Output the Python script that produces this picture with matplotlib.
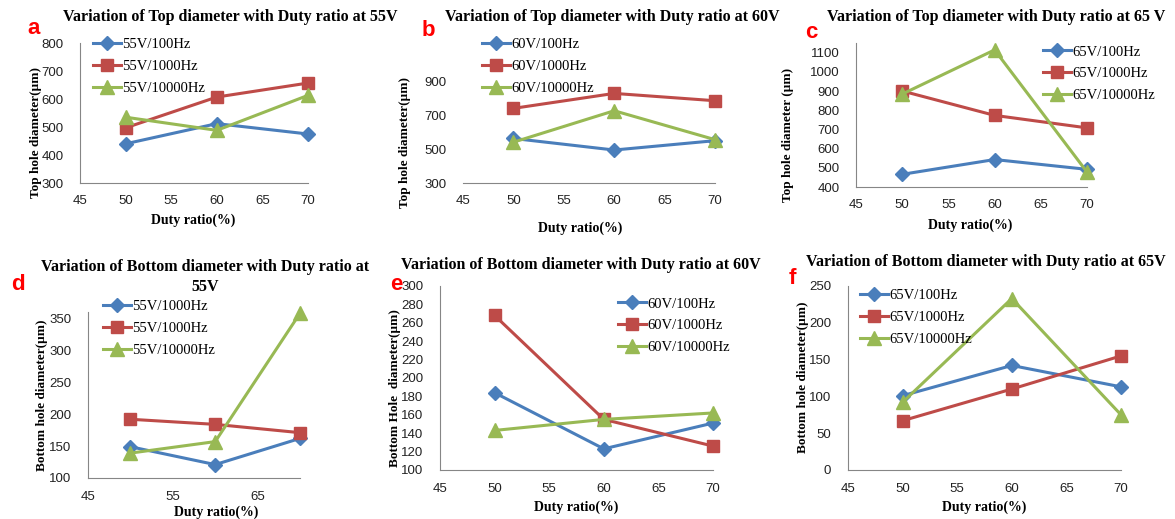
import matplotlib
matplotlib.use('Agg')
import matplotlib.pyplot as plt

# duty ratio (%) on the x axis of every panel
duty = [50, 60, 70]

# top hole diameter (um)
top55_100 = [440, 512, 475]
top55_1000 = [497, 607, 657]
top55_10000 = [535, 488, 613]
top60_100 = [562, 494, 549]
top60_1000 = [739, 827, 784]
top60_10000 = [540, 725, 555]
top65_100 = [466, 543, 492]
top65_1000 = [900, 773, 708]
top65_10000 = [884, 1114, 478]

# bottom hole diameter (um)
bot55_100 = [149, 121, 162]
bot55_1000 = [192, 184, 171]
bot55_10000 = [139, 157, 358]
bot60_100 = [184, 123, 151]
bot60_1000 = [268, 155, 126]
bot60_10000 = [143, 155, 162]
bot65_100 = [101, 142, 113]
bot65_1000 = [67, 110, 155]
bot65_10000 = [92, 233, 75]

labels55 = ['55V/100Hz', '55V/1000Hz', '55V/10000Hz']
labels55_bot = ['55V/1000Hz', '55V/1000Hz', '55V/10000Hz']
labels60 = ['60V/100Hz', '60V/1000Hz', '60V/10000Hz']
labels65 = ['65V/100Hz', '65V/1000Hz', '65V/10000Hz']

W, H = 1175, 519
fig = plt.figure(figsize=(W / 100, H / 100), dpi=100)

SERIF = 'Liberation Serif'
SANS = 'Liberation Sans'
colors = ['#4A7EBB', '#BE4B48', '#98B954']
markers = ['D', 's', '^']
msizes = [7, 8, 10]


def fx(x):
    return x / W


def fy(y):
    return 1 - y / H


def panel(box, series, labels, ylim, yticks, xticks, title, title_xy, letter, letter_xy,
          ylabel, ylabel_xy, xlabel_xy, legend_xy, left_spine=True):
    left, top, right, bottom = box
    ax = fig.add_axes([fx(left), fy(bottom), (right - left) / W, (bottom - top) / H])
    for vals, lab, c, m, ms in zip(series, labels, colors, markers, msizes):
        ax.plot(duty, vals, color=c, lw=2.2, marker=m, ms=ms, label=lab, clip_on=False)
    ax.set_xlim(45, 70)
    ax.set_ylim(*ylim)
    ax.set_xticks(xticks)
    ax.set_yticks(yticks)
    for s in ['top', 'right']:
        ax.spines[s].set_visible(False)
    for s in ['left', 'bottom']:
        ax.spines[s].set_color('#868686')
    if not left_spine:
        ax.spines['left'].set_visible(False)
    ax.tick_params(length=0, labelsize=9.5, colors='#222222')
    ax.tick_params(axis='y', pad=12)
    ax.tick_params(axis='x', pad=9)
    for t in ax.get_xticklabels() + ax.get_yticklabels():
        t.set_fontfamily(SANS)
    ax.legend(loc='upper left', bbox_to_anchor=(fx(legend_xy[0]), fy(legend_xy[1])),
              bbox_transform=fig.transFigure, frameon=False, borderpad=0,
              handlelength=1.9, handletextpad=0.1, labelspacing=0.6,
              prop={'family': SERIF, 'size': 10.5})
    fig.text(fx(title_xy[0]), fy(title_xy[1]), title, ha='center', va='center',
             family=SERIF, weight='bold', size=11.5, linespacing=1.3)
    fig.text(fx(letter_xy[0]), fy(letter_xy[1]), letter, ha='center', va='center',
             family=SANS, weight='bold', size=16, color='#FF0000')
    fig.text(fx(ylabel_xy[0]), fy(ylabel_xy[1]), ylabel, ha='center', va='center',
             rotation=90, family=SERIF, weight='bold', size=9.5)
    fig.text(fx(xlabel_xy[0]), fy(xlabel_xy[1]), 'Duty ratio(%)', ha='center', va='center',
             family=SERIF, weight='bold', size=10)
    return ax


panel((80, 43, 308, 183), [top55_100, top55_1000, top55_10000], labels55,
      (300, 800), range(300, 801, 100), [45, 50, 55, 60, 65, 70],
      'Variation of Top diameter with Duty ratio at 55V', (230, 17), 'a', (34, 28),
      'Top hole diameter(\u00b5m)', (36, 132), (193, 220), (86, 31))

panel((463, 64, 715, 183), [top60_100, top60_1000, top60_10000], labels60,
      (300, 1000), [300, 500, 700, 900], [45, 50, 55, 60, 65, 70],
      'Variation of Top diameter with Duty ratio at 60V', (612, 17), 'b', (428, 30),
      'Top hole diameter(\u00b5m)', (405, 142), (580, 228), (475, 31), left_spine=False)

panel((856, 43, 1087, 187), [top65_100, top65_1000, top65_10000], labels65,
      (400, 1150), range(400, 1101, 100), [45, 50, 55, 60, 65, 70],
      'Variation of Top diameter with Duty ratio at 65 V', (996, 17), 'c', (811, 32),
      'Top hole diameter (\u00b5m)', (788, 135), (970, 225), (1036, 38))

panel((88, 312, 300, 478), [bot55_100, bot55_1000, bot55_10000], labels55_bot,
      (100, 360), range(100, 351, 50), [45, 55, 65],
      'Variation of Bottom diameter with Duty ratio at\n55V', (205, 277), 'd', (18, 285),
      'Bottom hole diameter(\u00b5m)', (42, 395), (216, 512), (96, 293))

panel((440, 286, 713, 470), [bot60_100, bot60_1000, bot60_10000], labels60,
      (100, 300), range(100, 301, 20), [45, 50, 55, 60, 65, 70],
      'Variation of Bottom diameter with Duty ratio at 60V', (581, 265), 'e', (396, 285),
      'Bottom Hole  diameter(\u00b5m)', (395, 388), (576, 507), (611, 290))

panel((848, 286, 1121, 470), [bot65_100, bot65_1000, bot65_10000], labels65,
      (0, 250), range(0, 251, 50), [45, 50, 55, 60, 65, 70],
      'Variation of Bottom diameter with Duty ratio at 65V', (986, 262), 'f', (792, 278),
      'Bottom hole diameter(\u00b5m)', (803, 377), (984, 507), (853, 282))

fig.savefig('out.png', dpi=100)
